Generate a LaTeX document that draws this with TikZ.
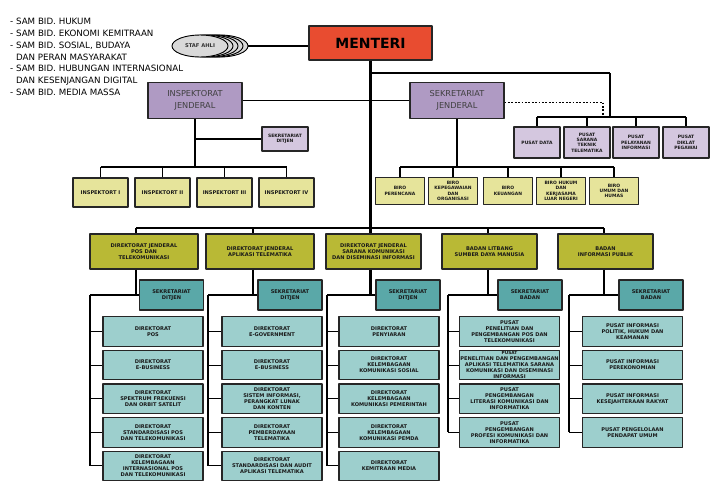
\documentclass[tikz,border=0pt]{standalone}
\usepackage{fontspec}
\setmainfont{DejaVu Sans}
\usetikzlibrary{shapes.geometric}
\definecolor{merah}{HTML}{E84C30}
\definecolor{ungu}{HTML}{AF9AC3}
\definecolor{ungumuda}{HTML}{D4C7DF}
\definecolor{kuning}{HTML}{E6E49B}
\definecolor{zaitun}{HTML}{B9B935}
\definecolor{toska}{HTML}{5AA8A8}
\definecolor{toskamuda}{HTML}{9DCFCD}
\definecolor{abu}{HTML}{D9D9D9}
\begin{document}
\begin{tikzpicture}[x=1pt, y=-1pt, line join=round,
	kotak/.style={draw=black!85, line width=1.1pt, align=center, inner sep=0pt, text=black!90, font=\fontsize{5.1}{6}\selectfont\bfseries},
	kecil/.style={font=\fontsize{4.5}{5.3}\selectfont\bfseries},
	besar/.style={font=\fontsize{8.2}{12}\selectfont, text=black!75},
	tebal/.style={line width=2.2pt},
	tipis/.style={line width=1.1pt},
	titik/.style={line width=1.5pt, dash pattern=on 1.8pt off 1.6pt},
	staf/.style={ellipse, draw, line width=0.9pt, fill=abu, minimum width=56pt, minimum height=22pt, inner sep=0pt}]
	\useasboundingbox (0,0) rectangle (717,498);
	% staf ahli
	\node[anchor=north west, align=left, inner sep=0pt, font=\fontsize{8.7}{11.8}\selectfont] (sam) at (10,18) {- SAM BID. HUKUM\\- SAM BID. EKONOMI KEMITRAAN\\- SAM BID. SOSIAL, BUDAYA\\\phantom{- }DAN PERAN MASYARAKAT\\- SAM BID. HUBUNGAN INTERNASIONAL\\\phantom{- }DAN KESENJANGAN DIGITAL\\- SAM BID. MEDIA MASSA};
	\node[draw=black!85, line width=1.1pt, fill=merah, minimum width=123pt, minimum height=34pt, font=\fontsize{14}{16}\selectfont\bfseries] (menteri) at (370.5,43) {MENTERI};
	\foreach \i in {5,4,3,2} \node[staf] (staf\i) at ({200+5*(\i-1)},46) {};
	\node[staf, font=\fontsize{5.2}{6}\selectfont\bfseries, text=black!80] (staf1) at (200,46) {STAF AHLI};
	\draw[tipis] (staf5.east) -- (staf5.east -| menteri.west);
	% inspektorat dan sekjen
	\node[kotak, besar, fill=ungu, minimum width=94pt, minimum height=36pt] (ij) at (195,100.5) {INSPEKTORAT\\JENDERAL};
	\node[kotak, besar, fill=ungu, minimum width=94pt, minimum height=36pt] (sj) at (457,100.5) {SEKRETARIAT\\JENDERAL};
	\node[kotak, kecil, fill=ungumuda, minimum width=46pt, minimum height=24pt] (setij) at (285,139) {SEKRETARIAT\\DITJEN};
	\foreach \i/\cx/\nm in {1/100.5/I, 2/162.5/II, 3/224.5/III, 4/286.5/IV}
		\node[kotak, fill=kuning, minimum width=55pt, minimum height=29pt] (ins\i) at (\cx,192.5) {INSPEKTORT \nm};
	\coordinate (ia) at (195,167);
	\draw[tipis] (ij.east) -- (sj.west);
	\draw[tebal] (ij.south) -- (ia);
	\draw[tipis] (setij.west) -- (setij.west -| ia);
	\draw[tebal] (ins1.north |- ia) -- (ins4.north |- ia);
	\foreach \i in {1,...,4} \draw[tipis] (ins\i.north |- ia) -- (ins\i.north);
	% pusat di bawah menteri
	\foreach \i/\cx/\teks in {1/537/{PUSAT DATA}, 2/587/{PUSAT\\SARANA\\TEKNIK\\TELEMATIKA}, 3/636/{PUSAT\\PELAYANAN\\INFORMASI}, 4/686/{PUSAT\\DIKLAT\\PEGAWAI}}
		\node[kotak, kecil, fill=ungumuda, minimum width=46pt, minimum height=31pt] (pst\i) at (\cx,142.5) {\teks};
	\coordinate (pa) at (610,117);
	\coordinate (pb) at (610,73);
	\coordinate (pc) at (603,117);
	\draw[tipis] (menteri.south |- pb) -- (pb);
	\draw[tebal] (pb) -- (pa);
	\draw[tipis] (pst1.north |- pa) -- (pst4.north |- pa);
	\foreach \i in {1,...,4} \draw[tipis] (pst\i.north |- pa) -- (pst\i.north);
	\draw[titik] ([yshift=-2pt]sj.east) -| (pc);
	% biro
	\foreach \i/\cx/\teks in {1/400/{BIRO\\PERENCANA}, 2/453/{BIRO\\KEPEGAWAIAN\\DAN\\ORGANISASI}, 3/508/{BIRO\\KEUANGAN}, 4/561/{BIRO HUKUM\\DAN\\KERJASAMA\\LUAR NEGERI}, 5/614/{BIRO\\UMUM DAN\\HUMAS}}
		\node[kotak, kecil, fill=kuning, minimum width=49pt, minimum height=27pt] (biro\i) at (\cx,191) {\teks};
	\coordinate (sa) at (457,167);
	\draw[tipis] (sj.south) -- (sa);
	\draw[tipis] (biro1.north |- sa) -- (biro5.north |- sa);
	\foreach \i in {1,...,5} \draw[tipis] (biro\i.north |- sa) -- (biro\i.north);
	% direktorat jenderal dan badan
	\foreach \i/\cx/\lb/\sx/\teks in {1/144/108/136/{DIREKTORAT JENDERAL\\POS DAN\\TELEKOMUNIKASI}, 2/260/108/253/{DIREKTORAT JENDERAL\\APLIKASI TELEMATIKA}, 3/373.5/95/370.5/{DIREKTORAT JENDERAL\\SARANA KOMUNIKASI\\DAN DISEMINASI INFORMASI}, 4/489.5/95/488/{BADAN LITBANG\\SUMBER DAYA MANUSIA}, 5/605.5/95/604/{BADAN\\INFORMASI PUBLIK}} {
		\node[kotak, fill=zaitun, minimum width=\lb pt, minimum height=35pt] (dj\i) at (\cx,251.5) {\teks};
		\coordinate (dt\i) at (\sx,228);
	}
	\draw[tebal] (menteri.south) -- (menteri.south |- dt1);
	\draw[tebal] (dt1) -- (dt5);
	\foreach \i in {1,...,5} \draw[tebal] (dt\i) -- (dt\i |- dj\i.north);
	\foreach \i/\cx/\px/\teks in {1/171.5/90/{SEKRETARIAT\\DITJEN}, 2/290/208/{SEKRETARIAT\\DITJEN}, 3/408/327/{SEKRETARIAT\\DITJEN}, 4/530/448/{SEKRETARIAT\\BADAN}, 5/651/569/{SEKRETARIAT\\BADAN}} {
		\node[kotak, fill=toska, minimum width=64pt, minimum height=30pt] (set\i) at (\cx,295) {\teks};
		\coordinate (sp\i) at (\px,295);
		\draw[tebal] (dt\i |- dj\i.south) -- (dt\i |- set\i.west);
		\draw[tebal] (sp\i) -- (set\i.west);
	}
	% direktorat dan pusat
	\foreach \kol/\baris/\teks in {1/1/{DIREKTORAT\\POS}, 1/2/{DIREKTORAT\\E-BUSINESS}, 1/3/{DIREKTORAT\\SPEKTRUM FREKUENSI\\DAN ORBIT SATELIT}, 1/4/{DIREKTORAT\\STANDARDISASI POS\\DAN TELEKOMUNIKASI}, 1/5/{DIREKTORAT\\KELEMBAGAAN\\INTERNASIONAL POS\\DAN TELEKOMUNIKASI},
		2/1/{DIREKTORAT\\E-GOVERNMENT}, 2/2/{DIREKTORAT\\E-BUSINESS}, 2/3/{DIREKTORAT\\SISTEM INFORMASI,\\PERANGKAT LUNAK\\DAN KONTEN}, 2/4/{DIREKTORAT\\PEMBERDAYAAN\\TELEMATIKA}, 2/5/{DIREKTORAT\\STANDARDISASI DAN AUDIT\\APLIKASI TELEMATIKA},
		3/1/{DIREKTORAT\\PENYIARAN}, 3/2/{DIREKTORAT\\KELEMBAGAAN\\KOMUNIKASI SOSIAL}, 3/3/{DIREKTORAT\\KELEMBAGAAN\\KOMUNIKASI PEMERINTAH}, 3/4/{DIREKTORAT\\KELEMBAGAAN\\KOMUNIKASI PEMDA}, 3/5/{DIREKTORAT\\KEMITRAAN MEDIA},
		4/1/{PUSAT\\PENELITIAN DAN\\PENGEMBANGAN POS DAN\\TELEKOMUNIKASI}, 4/2/{\fontsize{4.3}{4.9}\selectfont PUSAT\\PENELITIAN DAN PENGEMBANGAN\\APLIKASI TELEMATIKA SARANA\\KOMUNIKASI DAN DISEMINASI\\INFORMASI}, 4/3/{PUSAT\\PENGEMBANGAN\\LITERASI KOMUNIKASI DAN\\INFORMATIKA}, 4/4/{PUSAT\\PENGEMBANGAN\\PROFESI KOMUNIKASI DAN\\INFORMATIKA},
		5/1/{PUSAT INFORMASI\\POLITIK, HUKUM DAN\\KEAMANAN}, 5/2/{PUSAT INFORMASI\\PEREKONOMIAN}, 5/3/{PUSAT INFORMASI\\KESEJAHTERAAN RAKYAT}, 5/4/{PUSAT PENGELOLAAN\\PENDAPAT UMUM}} {
		\pgfmathsetmacro\xx{{153,272,389,509.5,632.5}[\kol-1]}
		\pgfmathsetmacro\yy{331.5+33.6*(\baris-1)}
		\node[kotak, fill=toskamuda, minimum width=100pt, minimum height=29.5pt] (dir\kol\baris) at (\xx,\yy) {\teks};
		\draw[tipis] (sp\kol |- dir\kol\baris.west) -- (dir\kol\baris.west);
	}
	\foreach \kol/\akhir in {1/5,2/5,3/5,4/4,5/4} \draw[tebal] (sp\kol) -- (sp\kol |- dir\kol\akhir.west);
\end{tikzpicture}
\end{document}
